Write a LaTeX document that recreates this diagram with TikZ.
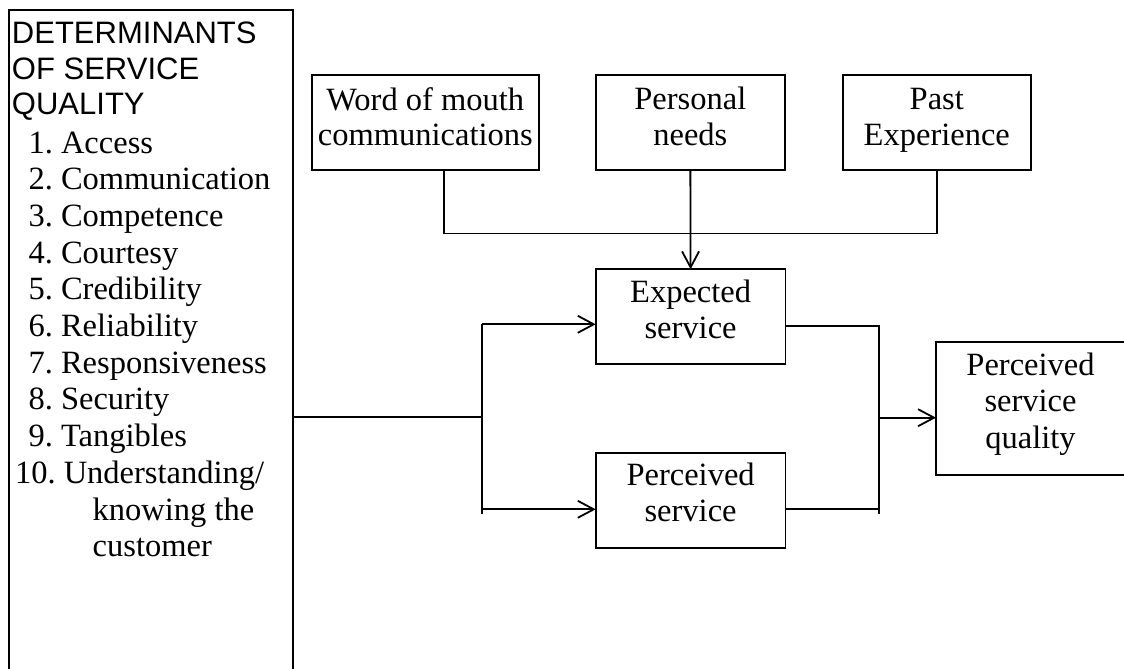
\documentclass[tikz,border=0pt]{standalone}
\usepackage{fontspec}
\setmainfont{Liberation Serif}
\newfontfamily\headfont{Liberation Sans}
\usetikzlibrary{arrows.meta}
\frenchspacing
\begin{document}
\begin{tikzpicture}[x=1pt,y=-1pt,
  every node/.style={inner sep=0pt, outer sep=0pt},
  box/.style={draw, line width=1.8pt, rectangle},
  txt/.style={anchor=base, font=\frenchspacing\fontsize{32.5}{36.7}\selectfont},
  ltxt/.style={anchor=base west, font=\frenchspacing\fontsize{32.5}{36.7}\selectfont},
  htxt/.style={anchor=base west, font=\headfont\fontsize{31}{36}\selectfont},
  ln/.style={line width=1.8pt},
  arr/.style={ln, -{Straight Barb[length=16pt,width=17pt,line width=1.8pt]}}
]
\useasboundingbox (0,0) rectangle (1124,669);

% boxes
\node[box, minimum width=284pt, minimum height=680pt] (det) at (151.3,350) {};
\node[box, minimum width=227.3pt, minimum height=95pt] (wom) at (425.3,122.5) {};
\node[box, minimum width=189.3pt, minimum height=95pt] (pers) at (690.35,122.5) {};
\node[box, minimum width=188.3pt, minimum height=95pt] (past) at (936.8,122.5) {};
\node[box, minimum width=189.8pt, minimum height=95pt] (exp) at (690.6,316.8) {};
\node[box, minimum width=189.8pt, minimum height=95pt] (perc) at (690.6,500.8) {};
\node[box, minimum width=192pt, minimum height=132.7pt] (psq) at (1032,408.65) {};

% left box text
\node[htxt] (h1) at (12,43.3) {DETERMINANTS};
\node[htxt] (h2) at (12,80) {OF SERVICE};
\node[htxt] (h3) at (12,114.5) {QUALITY};
\node[ltxt] (i1) at (28.5,153) {1. Access};
\node[ltxt] (i2) at (28.5,189.7) {2. Communication};
\node[ltxt] (i3) at (28.5,226.4) {3. Competence};
\node[ltxt] (i4) at (28.5,263) {4. Courtesy};
\node[ltxt] (i5) at (28.5,299.8) {5. Credibility};
\node[ltxt] (i6) at (28.5,336.5) {6. Reliability};
\node[ltxt] (i7) at (28.5,373) {7. Responsiveness};
\node[ltxt] (i8) at (28.5,409.9) {8. Security};
\node[ltxt] (i9) at (28.5,446.6) {9. Tangibles};
\node[ltxt] (i10) at (15,483.3) {10. Understanding/};
\node[ltxt] (i10b) at (92.7,520) {knowing the};
\node[ltxt] (i10c) at (92.7,556.7) {customer};

% box texts
\node[txt] (wom1) at (425.3,110) {Word of mouth};
\node[txt] (wom2) at (425.3,145) {communications};
\node[txt] (pers1) at (690.35,109.5) {Personal};
\node[txt] (pers2) at (690.35,145) {needs};
\node[txt] (past1) at (936.8,109.5) {Past};
\node[txt] (past2) at (936.8,145.5) {Experience};
\node[txt] (exp1) at (690.6,302.7) {Expected};
\node[txt] (exp2) at (690.6,338.3) {service};
\node[txt] (perc1) at (690.6,485) {Perceived};
\node[txt] (perc2) at (690.6,521.7) {service};
\node[txt] (psq1) at (1030.5,375) {Perceived};
\node[txt] (psq2) at (1030.5,411.7) {service};
\node[txt] (psq3) at (1030.5,448) {quality};

% junction coordinates
\coordinate (j1) at (444.3,233.5);
\coordinate (j3) at (936.8,233.5);
\coordinate (bm) at (482,417.3);
\coordinate (bt) at (482,324.3);
\coordinate (bb) at (482,514.3);
\coordinate (ba) at (482,509.3);
\coordinate (rt) at (879.3,325.7);
\coordinate (rb) at (879.3,514.3);
\coordinate (rm) at (879.3,417.7);
\coordinate (rp) at (879.3,509.3);

% connectors
\draw[ln] (wom.south -| j1) -- (j1) -- (j3);
\draw[ln] (past.south) -- (j3);
\draw[arr] (pers.south) -- (exp.north);
\draw[ln] (det.east |- bm) -- (bm);
\draw[ln] (bt) -- (bb);
\draw[arr] (bt) -- (exp.west |- bt);
\draw[arr] (ba) -- (perc.west |- ba);
\draw[ln] (exp.east |- rt) -- (rt) -- (rb);
\draw[ln] (perc.east |- rp) -- (rp);
\draw[arr] (rm) -- (psq.west |- rm);
\end{tikzpicture}
\end{document}
